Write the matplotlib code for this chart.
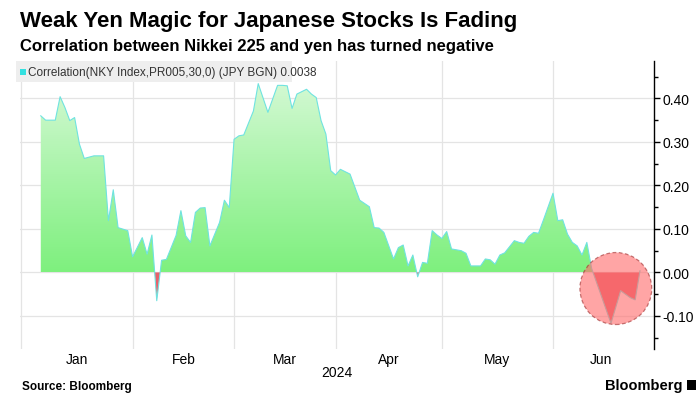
import numpy as np
import matplotlib
matplotlib.use("Agg")
import matplotlib.pyplot as plt
from matplotlib.path import Path
from matplotlib.patches import PathPatch, Ellipse, Rectangle
from matplotlib.ticker import MultipleLocator, FixedLocator, FixedFormatter
from matplotlib.colors import LinearSegmentedColormap

plt.rcParams['font.family'] = ['Liberation Sans Narrow', 'Liberation Sans', 'DejaVu Sans']

# ---------------- data ----------------
dates = ["2024-01-05", "2024-01-08", "2024-01-10", "2024-01-11", "2024-01-12", "2024-01-15",
         "2024-01-16", "2024-01-17", "2024-01-18", "2024-01-22", "2024-01-24", "2024-01-25",
         "2024-01-26", "2024-01-29", "2024-01-31", "2024-02-01", "2024-02-05", "2024-02-06",
         "2024-02-07", "2024-02-08", "2024-02-09", "2024-02-12", "2024-02-14", "2024-02-15",
         "2024-02-16", "2024-02-19", "2024-02-20", "2024-02-21", "2024-02-22", "2024-02-23",
         "2024-02-27", "2024-02-28", "2024-02-29", "2024-03-01", "2024-03-04", "2024-03-05",
         "2024-03-07", "2024-03-08", "2024-03-12", "2024-03-14", "2024-03-15", "2024-03-18",
         "2024-03-19", "2024-03-20", "2024-03-22", "2024-03-25", "2024-03-26", "2024-03-27",
         "2024-03-28", "2024-03-29", "2024-04-01", "2024-04-02", "2024-04-04", "2024-04-08",
         "2024-04-10", "2024-04-11", "2024-04-12", "2024-04-15", "2024-04-17", "2024-04-18",
         "2024-04-19", "2024-04-22", "2024-04-23", "2024-04-24", "2024-04-25", "2024-04-26",
         "2024-04-29", "2024-04-30", "2024-05-01", "2024-05-02", "2024-05-03", "2024-05-07",
         "2024-05-08", "2024-05-09", "2024-05-13", "2024-05-14", "2024-05-15", "2024-05-16",
         "2024-05-17", "2024-05-20", "2024-05-22", "2024-05-23", "2024-05-24", "2024-05-27",
         "2024-05-28", "2024-05-29", "2024-05-30", "2024-06-03", "2024-06-04", "2024-06-05",
         "2024-06-06", "2024-06-07", "2024-06-10", "2024-06-11", "2024-06-12", "2024-06-13",
         "2024-06-19", "2024-06-21", "2024-06-25", "2024-06-26", "2024-06-27"]
values = [0.360, 0.350, 0.350, 0.404, 0.379, 0.349,
          0.356, 0.295, 0.262, 0.268, 0.268, 0.119,
          0.190, 0.103, 0.096, 0.036, 0.080, 0.042,
          0.086, -0.065, 0.028, 0.030, 0.085, 0.142,
          0.084, 0.069, 0.138, 0.148, 0.149, 0.061,
          0.115, 0.166, 0.149, 0.306, 0.314, 0.316,
          0.371, 0.434, 0.368, 0.430, 0.430, 0.429,
          0.377, 0.410, 0.421, 0.410, 0.402, 0.349,
          0.318, 0.234, 0.224, 0.237, 0.226, 0.166,
          0.151, 0.103, 0.102, 0.092, 0.031, 0.057,
          0.063, 0.015, 0.040, -0.010, 0.023, 0.021,
          0.096, 0.086, 0.078, 0.094, 0.054, 0.050,
          0.044, 0.015, 0.015, 0.031, 0.029, 0.019,
          0.040, 0.045, 0.073, 0.069, 0.067, 0.083,
          0.092, 0.090, 0.120, 0.182, 0.119, 0.121,
          0.088, 0.069, 0.061, 0.040, 0.069, 0.009,
          -0.117, -0.042, -0.058, -0.063, 0.0038]

month_starts = ["2024-01-01", "2024-02-01", "2024-03-01", "2024-04-01", "2024-05-01", "2024-06-03", "2024-07-01"]
month_labels = ["Jan", "Feb", "Mar", "Apr", "May", "Jun"]
y_ticks = [-0.10, 0.00, 0.10, 0.20, 0.30, 0.40]
legend_label = "Correlation(NKY Index,PR005,30,0) (JPY BGN) 0.0038"
highlight_center = ("2024-06-20", -0.037)

# ---------------- helpers ----------------
origin = "2024-01-01"
def widx(d):
    return float(np.busday_count(origin, d))

x = np.array([widx(d) for d in dates])
y = np.array(values)
mx = [widx(d) for d in month_starts]
mid = [(mx[i] + mx[i + 1]) / 2 for i in range(len(month_labels))]

fig = plt.figure(figsize=(7, 4.1), dpi=100)
ax = fig.add_axes([20 / 700, 1 - 350 / 410, (654 - 20) / 700, (350 - 62) / 410])
xmin, xmax = -0.3, mx[-1] + 0.9
ymin, ymax = -0.176, 0.486

# grid
for v in mx[:-1]:
    ax.axvline(v, color='#e4e4e4', lw=0.9, zorder=0)
for v in y_ticks:
    ax.axhline(v, color='#e4e4e4', lw=0.9, zorder=0)

# positive fill with vertical gradient
pos = ax.fill_between(x, y, 0, where=y >= 0, interpolate=True, facecolor='none', edgecolor='none')
compound = Path.make_compound_path(*pos.get_paths())
clip = PathPatch(compound, transform=ax.transData, facecolor='none', edgecolor='none')
ax.add_patch(clip)
cmap = LinearSegmentedColormap.from_list('g', ['#7ef07e', '#a9f4a9', '#d6f9d6'])
grad = np.linspace(0, 1, 256).reshape(-1, 1)
im = ax.imshow(grad, cmap=cmap, origin='lower', aspect='auto',
               extent=[xmin, xmax, 0, 0.45], zorder=2, interpolation='bilinear')
im.set_clip_path(clip)
ax.set_xlim(xmin, xmax)
ax.set_ylim(ymin, ymax)

# negative fill
ax.fill_between(x, y, 0, where=y < 0, interpolate=True, facecolor='#e9606a', edgecolor='none', zorder=2)
# line
ax.plot(x, y, color='#6fe3e0', lw=0.8, zorder=3)

# highlight circle
cx = widx(highlight_center[0])
rx = 72 / 4.845
ry = 72 / 435
circ = Ellipse((cx, highlight_center[1]), rx, ry, facecolor='#ff6e6e', alpha=0.62,
               edgecolor='#a03030', lw=0.9, ls=(0, (3, 2)), zorder=4)
ax.add_patch(circ)

# axes styling
for s in ['left', 'top', 'bottom']:
    ax.spines[s].set_visible(False)
ax.spines['right'].set_color('black')
ax.spines['right'].set_linewidth(1.0)
ax.yaxis.tick_right()
ax.yaxis.set_major_locator(FixedLocator(y_ticks))
ax.yaxis.set_minor_locator(MultipleLocator(0.05))
ax.set_yticklabels([f"{v:.2f}" for v in y_ticks])
ax.tick_params(axis='y', which='major', direction='out', length=4, width=1, pad=2, labelsize=10)
ax.tick_params(axis='y', which='minor', direction='out', length=3, width=1)
ax.xaxis.set_major_locator(FixedLocator(mid))
ax.xaxis.set_major_formatter(FixedFormatter(month_labels))
ax.tick_params(axis='x', which='major', length=0, pad=2, labelsize=10)

# legend box
fig.patches.append(Rectangle((16 / 700, 1 - 83 / 410), (292 - 16) / 700, 21 / 410,
                             transform=fig.transFigure, facecolor='#eeeeee', edgecolor='none', zorder=5))
fig.patches.append(Rectangle((20 / 700, 1 - 76 / 410), 6 / 700, 6 / 410,
                             transform=fig.transFigure, facecolor='#33e0e0', edgecolor='none', zorder=6))
fig.text(28 / 700, 1 - 73 / 410, legend_label, fontsize=8.5, va='center', ha='left', color='#333333', zorder=7)

# titles
fig.text(20 / 700, 1 - 22 / 410, "Weak Yen Magic for Japanese Stocks Is Fading",
         fontsize=16, fontweight='bold', family=['Liberation Sans', 'DejaVu Sans'], va='center', ha='left')
fig.text(20 / 700, 1 - 47 / 410, "Correlation between Nikkei 225 and yen has turned negative",
         fontsize=12, fontweight='bold', family=['Liberation Sans', 'DejaVu Sans'], va='center', ha='left')
fig.text(337 / 700, 1 - 373 / 410, "2024", fontsize=10, ha='center', va='center')
fig.text(22 / 700, 1 - 387 / 410, "Source: Bloomberg", fontsize=8.5, fontweight='bold',
         family=['Liberation Sans', 'DejaVu Sans'], ha='left', va='center')
fig.text(683 / 700, 1 - 386 / 410, "Bloomberg", fontsize=10.5, fontweight='bold',
         family=['Liberation Sans', 'DejaVu Sans'], ha='right', va='center')
fig.patches.append(Rectangle((687 / 700, 1 - 391 / 410), 9 / 700, 10 / 410,
                             transform=fig.transFigure, facecolor='black', edgecolor='none'))

fig.savefig("out.png", dpi=100)
